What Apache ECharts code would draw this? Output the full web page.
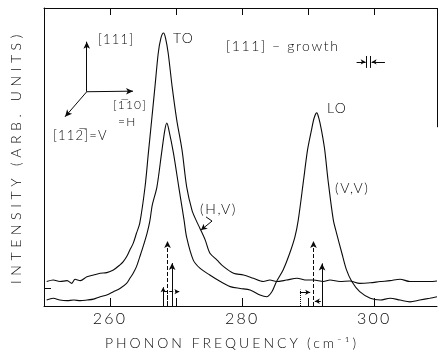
<!DOCTYPE html>
<html><head><meta charset="utf-8">
<script src="https://cdn.jsdelivr.net/npm/echarts@6/dist/echarts.min.js"></script>
<style>html,body{margin:0;padding:0;background:#fff}#c{width:439px;height:355px}#c svg{will-change:transform}</style>
</head><body><div id="c"></div>
<script>
// ---- data ----
const hvFreq = [250.4,251.4,252.4,253.5,254.2,254.7,255.5,256.5,257.5,258.5,259.5,260.5,261.5,262.0,262.5,263.0,263.5,264.0,264.5,265.3,265.8,266.3,266.8,267.3,267.7,268.1,268.4,268.8,269.4,270.1,270.9,271.6,272.4,273.0,273.6,274.4,275.1,276.2,277.2,278.7,280.2,281.7,283.2,284.2,285.2,286.7,288.3,289.8,290.8,292.3,293.3,294.8,296.3,297.8,299.4,300.9,302.4,303.9,305.4,306.9,308.4,309.5];
const hvInt = [8.2,8.7,8.2,8.5,7.6,9.0,8.5,9.8,10.4,11.0,11.2,12.1,13.8,14.9,16.5,18.8,21.0,24.4,27.8,40.0,51.3,62.4,73.6,84.9,89.9,91.6,89.9,84.9,73.6,62.4,52.3,40.0,32.2,28.9,26.1,22.2,17.8,15.4,13.2,11.0,10.4,9.3,8.2,8.7,8.2,8.7,9.3,8.7,8.7,8.2,8.7,8.2,8.4,7.6,7.8,8.2,8.5,9.0,8.2,8.2,8.2,8.4];
const vvFreq = [250.4,251.4,252.4,253.5,254.5,255.5,256.5,257.5,258.5,259.5,260.5,261.5,262.5,263.0,263.5,264.0,264.5,265.0,265.6,266.0,266.4,267.1,267.8,268.3,268.6,268.9,269.6,270.4,271.2,271.6,272.6,273.6,275.1,276.7,278.2,279.7,281.2,282.7,283.7,284.5,285.2,286.2,287.2,288.0,288.5,289.3,289.9,290.5,290.9,291.3,291.6,292.0,292.5,293.0,293.8,294.3,295.1,295.8,296.6,297.8,299.4,300.9,302.4,303.9,305.4,306.9,308.4,309.5];
const vvInt = [2.0,2.6,2.0,1.8,2.0,1.8,2.0,2.3,3.1,3.7,4.8,5.9,7.6,9.3,11.0,13.2,16.5,19.9,24.4,28.2,33.9,40.0,51.3,59.1,61.4,59.1,51.3,40.0,28.9,23.0,15.4,12.7,10.4,8.2,6.5,5.9,5.4,3.7,3.1,4.8,8.2,12.1,17.7,23.3,28.9,42.3,52.4,59.1,63.1,64.8,63.1,59.1,52.4,42.3,28.9,24.4,17.7,12.1,8.2,4.8,2.6,2.0,2.6,2.0,1.4,2.0,2.6,3.1];

const xTickValues = [260,270,280,290,300];
const xLabelValues = [260,280,300];
const yTickValues = [5.9];

// calculated mode positions (stick arrows)
const stickFreq = [268.7, 269.4, 290.8, 292.1];
const stickTop  = [21.8, 14.4, 21.8, 14.3];
const stickType = ['dashed','solid','dashed','solid'];

// small shift markers
const smallFreq = [268.05, 268.6, 288.75];
const smallTop  = [6.3, 4.5, 5.5];
const smallType = ['solid','dotted','dotted'];
const smallArrow = [true,false,false];
const shiftFrom = [[268.05,4.8],[288.75,4.6],[291.9,1.6]];
const shiftTo   = [[270.5,4.8],[290.3,4.6],[291.0,1.6]];
const shiftType = ['dashed','solid','solid'];

// crystal axes inset
const insetOrigin = [256.47,71.9];
const insetEnds = [[256.47,88.7],[263.48,72.1],[253.19,63.5]];

// resolution marker
const resBars = [298.85, 299.45];
const resBarLow = 79.9, resBarHigh = 83.9, resLevel = 81.9;
const resArrowFrom = [297.33, 301.62];
const resArrowTo = [298.7, 299.6];

// pointer from (H,V) label
const pointer = [[274.53,29.9],[275.44,28.5],[273.77,25.5]];

const INK = '#0a0a0a';
const FONT = 'Lato';
const zip = (a,b) => a.map((v,i)=>[v,b[i]]);

function seg(a,b,type,arrow,size){
  return [{coord:a, symbol:'none', lineStyle:{type:type, color:INK, width:1}},
          {coord:b, symbol: arrow ? 'arrow' : 'none', symbolSize: size || [5,7]}];
}
const marks = [];
stickFreq.forEach((f,i)=>marks.push(seg([f,0],[f,stickTop[i]],stickType[i],true)));
smallFreq.forEach((f,i)=>marks.push(seg([f,0],[f,smallTop[i]],smallType[i],smallArrow[i],[4,5])));
shiftFrom.forEach((p,i)=>marks.push(seg(p,shiftTo[i],shiftType[i],true,[4,5])));
insetEnds.forEach(p=>marks.push(seg(insetOrigin,p,'solid',true,[5,7])));
resBars.forEach(f=>marks.push(seg([f,resBarLow],[f,resBarHigh],'solid',false)));
resArrowFrom.forEach((f,i)=>marks.push(seg([f,resLevel],[resArrowTo[i],resLevel],'solid',true,[4,5])));
marks.push(seg(pointer[0],pointer[1],'solid',false));
marks.push(seg(pointer[1],pointer[2],'solid',true,[5,6]));
marks.push(seg([309.5,100],[309.5,60],'solid',false));

const chart = echarts.init(document.getElementById('c'), null, {renderer:'svg'});
const txt = (s,x,y,size) => ({type:'text', x:x, y:y, silent:true,
  style:{text:s, font:'300 '+(size||14)+'px '+FONT, fill:INK, verticalAlign:'middle', align:'left'}});

chart.setOption({
  animation:false,
  backgroundColor:'#fff',
  grid:{left:44, right:2, top:8, bottom:49},
  xAxis:[{
    type:'value', position:'bottom', min:250, max:309.5,
    axisLine:{show:true, onZero:false, lineStyle:{color:INK, width:1}},
    axisTick:{show:true, inside:true, length:8, customValues:xTickValues, lineStyle:{color:INK}},
    axisLabel:{customValues:xLabelValues, margin:3, color:INK, fontFamily:FONT, fontWeight:300, fontSize:16},
    splitLine:{show:false},
    name:'PHONON FREQUENCY (cm⁻¹)', nameLocation:'middle', nameGap:29,
    nameTextStyle:{color:INK, fontFamily:FONT, fontWeight:300, fontSize:14, padding:[0,17,0,0]}
  },{
    type:'value', position:'top', min:250, max:309.5,
    axisLine:{show:true, onZero:false, lineStyle:{color:INK, width:1}},
    axisTick:{show:true, inside:true, length:7, customValues:xTickValues, lineStyle:{color:INK}},
    axisLabel:{show:false}, splitLine:{show:false}
  }],
  yAxis:{
    type:'value', min:0, max:100,
    axisLine:{show:true, lineStyle:{color:INK, width:1}},
    axisTick:{show:true, inside:true, length:7, customValues:yTickValues, lineStyle:{color:INK}},
    axisLabel:{show:false}, splitLine:{show:false},
    name:'INTENSITY (ARB. UNITS)', nameLocation:'middle', nameGap:22,
    nameTextStyle:{color:INK, fontFamily:FONT, fontWeight:300, fontSize:14}
  },
  series:[
    {name:'(H,V)', type:'line', data:zip(hvFreq,hvInt), showSymbol:false, symbol:'none', smooth:0.3,
     lineStyle:{color:INK, width:1.1}, silent:true},
    {name:'(V,V)', type:'line', data:zip(vvFreq,vvInt), showSymbol:false, symbol:'none', smooth:0.3,
     lineStyle:{color:INK, width:1.1}, silent:true},
    {name:'marks', type:'line', data:[], silent:true,
     markLine:{silent:true, animation:false, symbol:['none','none'], label:{show:false},
       emphasis:{disabled:true}, lineStyle:{color:INK, width:1}, data:marks}}
  ],
  graphic:[
    txt('TO',173,37),
    txt('LO',327,107),
    txt('[111] – growth',226,45),
    txt('(V,V)',335,187),
    txt('(H,V)',200,208),
    txt('[111]',98,39,13),
    txt('[1\u030510]',113,104,12),
    txt('=H',118,121,12),
    txt('[112\u0305]=V',53,135,13)
  ]
});

const spacing = [[/^INTENSITY/,4.6],[/^PHONON/,3],[/^\d+$/,2.2],[/growth/,1.6],[/^\(/,1.6]];
function applySpacing(){
  document.querySelectorAll('#c svg text').forEach(t=>{
    const s = t.textContent; let ls = 1.2;
    for (const [re,v] of spacing){ if (re.test(s)) { ls = v; break; } }
    t.setAttribute('letter-spacing', ls);
  });
}
applySpacing();
chart.on('finished', applySpacing);
</script></body></html>
